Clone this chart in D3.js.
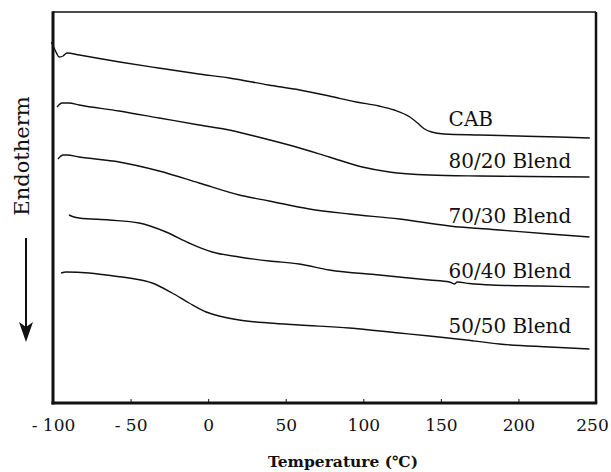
<!DOCTYPE html>
<html>
<head>
<meta charset="utf-8">
<script src="https://cdn.jsdelivr.net/npm/d3@7/dist/d3.min.js"></script>
<style>
  html, body { margin: 0; padding: 0; background: #fff; }
  svg { display: block; }
</style>
</head>
<body>
<svg id="chart" width="611" height="472"></svg>
<script>
// ---- data (temperature in °C, heat flow in arbitrary units) ----
const xTicks = [-100, -50, 0, 50, 100, 150, 200, 250];
const seriesNames = ["CAB", "80/20 Blend", "70/30 Blend", "60/40 Blend", "50/50 Blend"];

const cabT = [-101, -98.7, -96, -93.5, -91, -83, -57, -32, -6, 13.5, 39, 59, 78, 95.5, 110, 120, 130, 135, 139.5, 144, 152, 175, 200, 226, 246];
const cabV = [361, 353, 346, 347, 350, 348, 341, 335, 329, 325, 318, 313, 307, 301, 297, 293, 286, 280, 274, 271, 269, 268, 267, 266, 265];

const b8020T = [-97.4, -94.2, -89.7, -83.2, -57.4, -31.6, -5.8, 13.5, 34.8, 56.8, 78.1, 99.4, 116.8, 142.6, 174.8, 207.1, 245.8];
const b8020V = [296, 300, 300, 298, 292, 285, 278, 273, 265, 256, 246, 236, 231, 228, 227, 226.5, 226];

const b7030T = [-96.8, -93.5, -91, -83.2, -57.4, -31.6, -5.8, 20, 39.4, 65.2, 91, 123.2, 155.5, 187.7, 220, 245.8];
const b7030V = [244, 248, 248, 246, 241, 232, 220, 208, 202, 194, 189, 184, 177, 173, 169, 166];

const b6040T = [-89.7, -86.5, -83.2, -63.9, -44.5, -27.1, -12.3, 2.6, 20, 39.4, 58.7, 78.1, 110.3, 142.6, 155.5, 158.7, 160.6, 168.4, 183.2, 213.5, 245.8];
const b6040V = [188, 186, 185, 183, 180, 171, 160, 151, 146, 142, 139, 133, 128, 123, 121, 119, 121, 119.5, 118, 117, 116];

const b5050T = [-94.8, -91.6, -76.8, -65.8, -51, -36.1, -23.2, -12.3, -1.3, 7.1, 20, 39.4, 58.7, 91, 123.2, 142.6, 166.5, 187.7, 220, 245.8];
const b5050V = [130, 131, 130, 128, 125, 120, 110, 100, 91, 87, 83, 80, 78, 75, 70, 67, 63, 59, 56, 54];

// label anchor values (temperature, heat flow units) for curve names
const labelT = [155, 155, 155, 155, 155];
const labelV = [277, 235, 180, 125, 70];

// ---- chart ----
const svg = d3.select("#chart");
const x = d3.scaleLinear().domain([-100, 250]).range([53, 596]);
const y = d3.scaleLinear().domain([0, 391]).range([403, 12]);

const serif = "'DejaVu Serif', 'Liberation Serif', serif";

const series = [
  [cabT, cabV], [b8020T, b8020V], [b7030T, b7030V], [b6040T, b6040V], [b5050T, b5050V]
];

const line = d3.line()
  .x(d => x(d[0]))
  .y(d => y(d[1]))
  .curve(d3.curveMonotoneX);

series.forEach(([ts, vs]) => {
  const pts = ts.map((t, i) => [t, vs[i]]);
  svg.append("path")
    .attr("d", line(pts))
    .attr("fill", "none")
    .attr("stroke", "#111")
    .attr("stroke-width", 1.4)
    .attr("stroke-linejoin", "round");
});

// curve labels
seriesNames.forEach((name, i) => {
  svg.append("text")
    .attr("x", x(labelT[i]))
    .attr("y", y(labelV[i]))
    .attr("font-family", serif)
    .attr("font-size", 20)
    .attr("fill", "#111")
    .text(name);
});

// frame
const [x0, x1] = x.range();
const [yb, yt] = y.range();
svg.append("line").attr("x1", x0).attr("x2", x1).attr("y1", yt).attr("y2", yt)
  .attr("stroke", "#111").attr("stroke-width", 1.5);
svg.append("line").attr("x1", x1).attr("x2", x1).attr("y1", yt).attr("y2", yb)
  .attr("stroke", "#111").attr("stroke-width", 2.5);
svg.append("line").attr("x1", x0).attr("x2", x0).attr("y1", yt - 0.75).attr("y2", yb + 1.5)
  .attr("stroke", "#111").attr("stroke-width", 3);

// bottom axis
const axis = d3.axisBottom(x)
  .tickValues(xTicks)
  .tickSizeInner(-4)
  .tickSizeOuter(0)
  .tickFormat(d => d < 0 ? "- " + Math.abs(d) : String(d));
const gAx = svg.append("g").attr("transform", `translate(0,${yb})`).call(axis);
gAx.select(".domain").attr("stroke", "#111").attr("stroke-width", 3)
  .attr("d", `M${x0 - 1.5},0H${x1 + 1.25}`);
gAx.selectAll(".tick line").attr("stroke", "#111").attr("stroke-width", 1);
gAx.selectAll(".tick text")
  .attr("font-family", serif)
  .attr("font-size", 17)
  .attr("fill", "#111")
  .attr("y", 28)
  .attr("dy", 0)
  .attr("dx", d => d === 250 ? -4 : 0);

// axis title
svg.append("text")
  .attr("x", 343)
  .attr("y", 467)
  .attr("text-anchor", "middle")
  .attr("font-family", serif)
  .attr("font-weight", "bold")
  .attr("font-size", 15.5)
  .attr("fill", "#111")
  .text("Temperature (℃)");

// y label
svg.append("text")
  .attr("transform", "translate(29,156) rotate(-90)")
  .attr("text-anchor", "middle")
  .attr("font-family", serif)
  .attr("font-size", 21)
  .attr("fill", "#111")
  .text("Endotherm");

// arrow
svg.append("line").attr("x1", 26).attr("x2", 26).attr("y1", 238).attr("y2", 330)
  .attr("stroke", "#111").attr("stroke-width", 2);
svg.append("path").attr("d", "M19,322 L26,342 L33,322 L26,327 Z").attr("fill", "#111");
</script>
</body>
</html>
